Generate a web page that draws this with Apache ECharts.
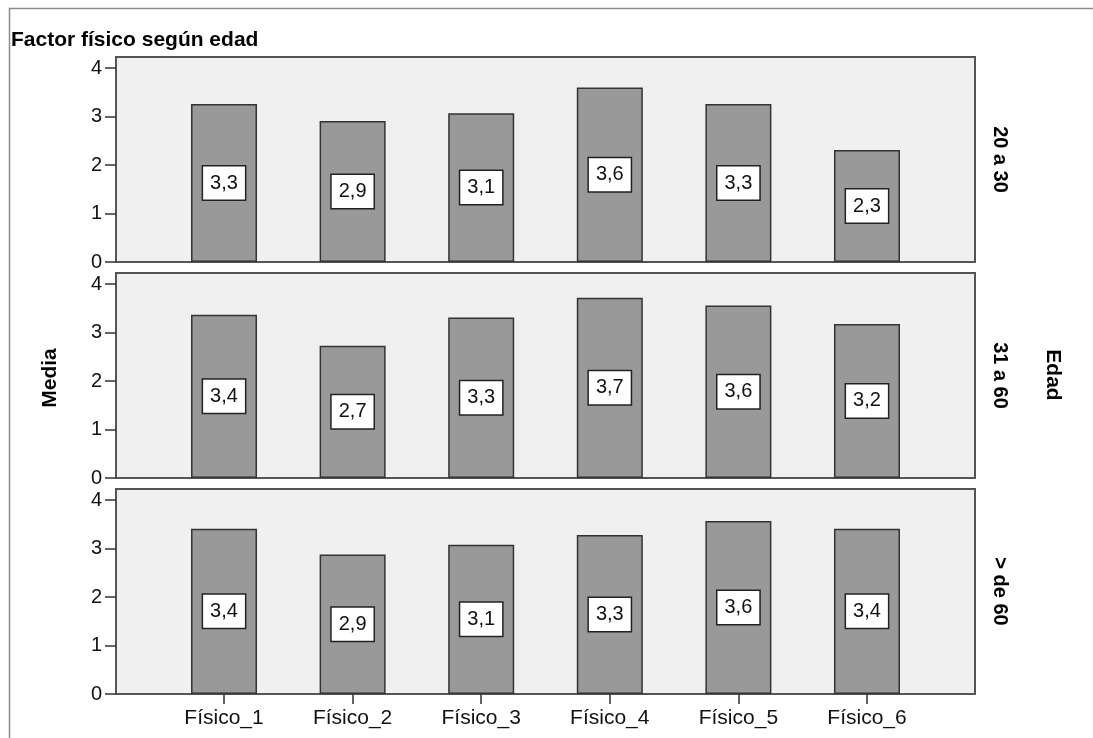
<!DOCTYPE html>
<html>
<head>
<meta charset="utf-8">
<title>Factor físico según edad</title>
<script src="https://cdn.jsdelivr.net/npm/echarts@6/dist/echarts.min.js"></script>
<style>
  html, body { margin: 0; padding: 0; background: #fff; }
  #chart { width: 1093px; height: 738px; }
</style>
</head>
<body>
<div id="chart"></div>
<script>
// categorías del eje X y grupos de edad (paneles)
const categories = ['Físico_1', 'Físico_2', 'Físico_3', 'Físico_4', 'Físico_5', 'Físico_6'];
const ageGroups = ['20 a 30', '31 a 60', '> de 60'];

// medias (una lista por panel)
const media20a30 = [3.26, 2.91, 3.07, 3.60, 3.26, 2.31];
const media31a60 = [3.37, 2.73, 3.31, 3.72, 3.56, 3.18];
const mediaMas60 = [3.41, 2.88, 3.08, 3.28, 3.57, 3.41];

const yTicks = [0, 1, 2, 3, 4];
const xTicks = [1, 2, 3, 4, 5, 6];

const panels = [media20a30, media31a60, mediaMas60];
const panelTops = [57, 273, 489];
const panelHeight = 205;
const FONT = '"Liberation Sans", Arial, sans-serif';

const chart = echarts.init(document.getElementById('chart'));

const grids = panelTops.map(top => ({
  left: 116,
  width: 859,
  top: top,
  height: panelHeight,
  show: true,
  backgroundColor: '#f0f0f0',
  borderColor: '#555',
  borderWidth: 2
}));

const xAxes = panelTops.map((_, i) => {
  const last = i === panelTops.length - 1;
  return {
    type: 'value',
    gridIndex: i,
    min: 0.16,
    max: 6.84,
    splitLine: { show: false },
    axisLine: { show: false },
    axisTick: {
      show: last,
      customValues: xTicks,
      length: 10,
      lineStyle: { color: '#333', width: 1.5 }
    },
    axisLabel: {
      show: last,
      customValues: xTicks,
      margin: 14,
      color: '#111',
      fontSize: 21,
      fontFamily: FONT,
      formatter: v => categories[v - 1]
    }
  };
});

const yAxes = panelTops.map((_, i) => ({
  type: 'value',
  gridIndex: i,
  min: 0,
  max: 4.23,
  splitLine: { show: false },
  axisLine: { show: false },
  axisTick: {
    show: true,
    customValues: yTicks,
    length: 11,
    lineStyle: { color: '#333', width: 1.5 }
  },
  axisLabel: {
    customValues: yTicks,
    margin: 14,
    color: '#111',
    fontSize: 20,
    fontFamily: FONT
  }
}));

const series = panels.map((vals, i) => ({
  type: 'bar',
  name: ageGroups[i],
  xAxisIndex: i,
  yAxisIndex: i,
  barWidth: 66,
  animation: false,
  data: vals.map((v, j) => [xTicks[j], v]),
  itemStyle: {
    color: '#999999',
    borderColor: '#333',
    borderWidth: 1.5
  },
  label: {
    show: true,
    position: 'inside',
    formatter: p => p.value[1].toFixed(1).replace('.', ','),
    color: '#111',
    fontSize: 20,
    fontFamily: FONT,
    lineHeight: 22,
    backgroundColor: '#fff',
    borderColor: '#222',
    borderWidth: 1.5,
    padding: [6, 7, 5, 7]
  }
}));

// textos rotados: etiquetas de panel, "Media" y "Edad"
const rotText = (text, x, y, rot, size) => ({
  type: 'text',
  x: x,
  y: y,
  rotation: rot,
  silent: true,
  style: {
    text: text,
    font: 'bold ' + size + 'px ' + FONT,
    fill: '#000',
    textAlign: 'center',
    textVerticalAlign: 'middle',
    align: 'center',
    verticalAlign: 'middle'
  }
});

const graphic = [
  {
    type: 'rect',
    silent: true,
    shape: { x: 9.5, y: 8.5, width: 1100, height: 760 },
    style: { fill: 'none', stroke: '#8c8c8c', lineWidth: 1.5 }
  },
  rotText('Media', 50, 378, Math.PI / 2, 21),
  rotText('Edad', 1053, 375, -Math.PI / 2, 21)
].concat(ageGroups.map((g, i) =>
  rotText(g, 1000, panelTops[i] + panelHeight / 2, -Math.PI / 2, 20)
));

const option = {
  backgroundColor: '#fff',
  animation: false,
  title: {
    text: 'Factor físico según edad',
    left: 11,
    top: 30,
    padding: 0,
    textStyle: {
      color: '#000',
      fontSize: 21,
      fontWeight: 'bold',
      fontFamily: FONT
    }
  },
  grid: grids,
  xAxis: xAxes,
  yAxis: yAxes,
  series: series,
  graphic: graphic
};

chart.setOption(option);
</script>
</body>
</html>
